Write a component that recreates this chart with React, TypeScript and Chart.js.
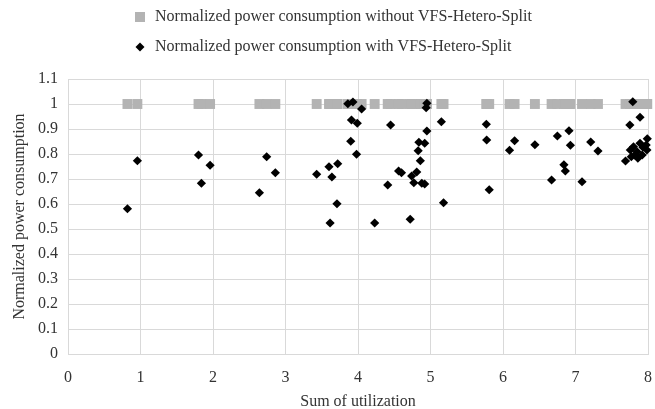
import { useEffect, useRef } from "react";
import { Chart, registerables } from "chart.js";

Chart.register(...registerables);

// Sum of utilization for each task set
const utilization = [
  0.82, 0.957, 1.8, 1.84, 1.96, 2.64, 2.74, 2.86, 3.43, 3.6, 3.615, 3.64, 3.71, 3.72,
  3.86, 3.9, 3.91, 3.93, 3.98, 3.99, 4.05, 4.23, 4.41, 4.45, 4.56, 4.6, 4.72, 4.74,
  4.77, 4.81, 4.83, 4.84, 4.86, 4.88, 4.92, 4.92, 4.94, 4.95, 4.95, 5.15, 5.18, 5.77,
  5.775, 5.81, 6.09, 6.16, 6.44, 6.67, 6.75, 6.84, 6.86, 6.91, 6.93, 7.09, 7.21, 7.31,
  7.69, 7.75, 7.79, 7.89, 7.99, 7.756, 7.8, 7.89, 7.93, 7.975, 7.85, 7.92, 7.985, 7.82,
  7.77, 7.86,
];

// Normalized power consumption with VFS-Hetero-Split
const powerWith = [
  0.581, 0.773, 0.796, 0.683, 0.755, 0.645, 0.789, 0.725, 0.719, 0.749, 0.524, 0.708, 0.601, 0.761,
  1.001, 0.851, 0.936, 1.008, 0.799, 0.923, 0.98, 0.524, 0.676, 0.916, 0.732, 0.725, 0.539, 0.712,
  0.685, 0.728, 0.813, 0.847, 0.773, 0.683, 0.843, 0.68, 0.985, 1.003, 0.892, 0.929, 0.605, 0.919,
  0.856, 0.657, 0.815, 0.853, 0.837, 0.696, 0.872, 0.757, 0.732, 0.893, 0.835, 0.689, 0.848, 0.812,
  0.772, 0.916, 1.009, 0.947, 0.861, 0.816, 0.829, 0.843, 0.827, 0.836, 0.809, 0.796, 0.816, 0.796,
  0.789, 0.783,
];

// Normalized power consumption without VFS-Hetero-Split
const powerWithout = [
  1, 1, 1, 1, 1, 1, 1, 1, 1, 1, 1, 1, 1, 1,
  1, 1, 1, 1, 1, 1, 1, 1, 1, 1, 1, 1, 1, 1,
  1, 1, 1, 1, 1, 1, 1, 1, 1, 1, 1, 1, 1, 1,
  1, 1, 1, 1, 1, 1, 1, 1, 1, 1, 1, 1, 1, 1,
  1, 1, 1, 1, 1, 1, 1, 1, 1, 1, 1, 1, 1, 1,
  1, 1,
];

const seriesLabels = [
  "Normalized power consumption without VFS-Hetero-Split",
  "Normalized power consumption with VFS-Hetero-Split",
];

const xTitle = "Sum of utilization";
const yTitle = "Normalized power consumption";

const FONT = '"Liberation Serif", "Times New Roman", serif';
const TEXT = "#333333";
const GRID = "#d9d9d9";
const GREY = "#b3b3b3";

const legendPlugin = {
  id: "customLegend",
  afterDraw(chart: any) {
    const ctx = chart.ctx as CanvasRenderingContext2D;
    const ds = chart.data.datasets;
    const symX = 140;
    const textX = 155;
    const rows = [17, 47];
    ctx.save();
    ds.forEach((d: any, i: number) => {
      const y = rows[i];
      ctx.fillStyle = d.backgroundColor;
      ctx.beginPath();
      if (d.pointStyle === "rect") {
        ctx.rect(symX - 5, y - 5, 10, 10);
      } else {
        const r = 4.5;
        ctx.moveTo(symX - r, y);
        ctx.lineTo(symX, y - r);
        ctx.lineTo(symX + r, y);
        ctx.lineTo(symX, y + r);
        ctx.closePath();
      }
      ctx.fill();
      ctx.fillStyle = TEXT;
      ctx.font = `16px ${FONT}`;
      ctx.textBaseline = "middle";
      ctx.textAlign = "left";
      ctx.fillText(d.label, textX, y);
    });
    ctx.restore();
  },
};

export default function App() {
  const ref = useRef<HTMLCanvasElement | null>(null);

  useEffect(() => {
    document.body.style.margin = "0";
    const canvas = ref.current;
    if (!canvas) return;
    const chart = new Chart(canvas, {
      type: "scatter",
      data: {
        datasets: [
          {
            label: seriesLabels[0],
            data: utilization.map((x, i) => ({ x, y: powerWithout[i] })),
            pointStyle: "rect",
            pointRadius: 7,
            pointHoverRadius: 7,
            backgroundColor: GREY,
            borderColor: GREY,
            borderWidth: 0,
            order: 1,
            clip: false,
          } as any,
          {
            label: seriesLabels[1],
            data: utilization.map((x, i) => ({ x, y: powerWith[i] })),
            pointStyle: "rectRot",
            pointRadius: 4.6,
            pointHoverRadius: 4.6,
            backgroundColor: "#000000",
            borderColor: "#000000",
            borderWidth: 0,
            order: 0,
            clip: false,
          } as any,
        ],
      },
      options: {
        responsive: false,
        animation: false,
        devicePixelRatio: 1,
        layout: { padding: { top: 79, right: 4, left: 0, bottom: 0 } },
        plugins: {
          legend: { display: false },
          tooltip: { enabled: false },
        },
        scales: {
          x: {
            type: "linear",
            min: 0,
            max: 8,
            ticks: {
              stepSize: 1,
              padding: 14,
              color: TEXT,
              font: { family: FONT, size: 16 },
            },
            grid: { color: GRID, lineWidth: 1, drawTicks: false },
            border: { color: GRID, width: 1 },
            title: {
              display: true,
              text: xTitle,
              color: TEXT,
              font: { family: FONT, size: 16 },
              padding: { top: 0, bottom: -2 },
            },
            afterFit: (s: any) => {
              s.height = 55;
              s.paddingLeft = 0;
              s.paddingRight = 4;
            },
          },
          y: {
            type: "linear",
            min: 0,
            max: 1.1,
            ticks: {
              stepSize: 0.1,
              padding: 10,
              color: TEXT,
              font: { family: FONT, size: 16 },
              callback: (v: any) => String(Math.round(Number(v) * 10) / 10),
            },
            grid: { color: GRID, lineWidth: 1, drawTicks: false },
            border: { color: GRID, width: 1 },
            title: {
              display: true,
              text: yTitle,
              color: TEXT,
              font: { family: FONT, size: 16 },
              padding: { top: 10, bottom: 0 },
            },
            afterFit: (s: any) => {
              s.width = 68;
            },
          },
        },
      } as any,
      plugins: [legendPlugin],
    });
    return () => chart.destroy();
  }, []);

  return (
    <div style={{ width: 655, height: 409 }}>
      <canvas ref={ref} width={655} height={409} style={{ display: "block" }} />
    </div>
  );
}
